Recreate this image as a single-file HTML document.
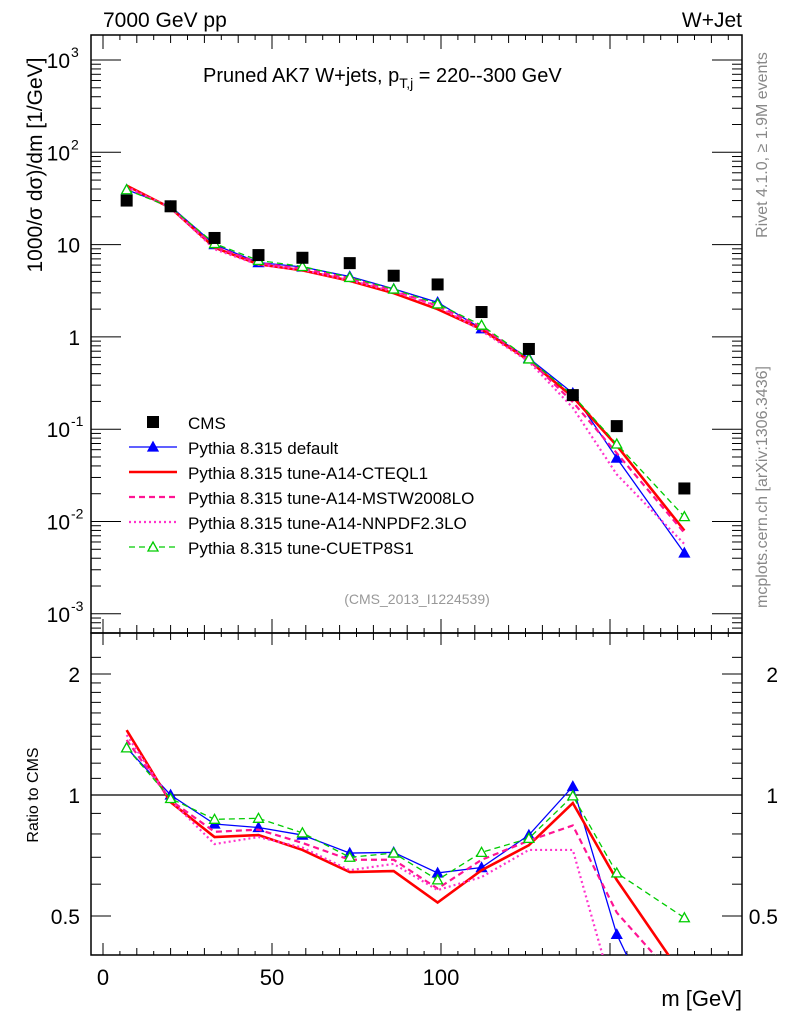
<!DOCTYPE html>
<html><head><meta charset="utf-8"><style>
html,body{margin:0;background:#fff;width:786px;height:1024px;overflow:hidden;position:relative;}
svg{display:block;font-family:"Liberation Sans",sans-serif;}
</style></head><body>
<svg id="chart" width="786" height="1024" viewBox="0 0 786 1024" xmlns="http://www.w3.org/2000/svg" style="position:absolute;left:0;top:0">
<g id="axes"></g><g id="marks"></g><g id="labels"></g>
</svg>
<script>
// ---- data ----
const massBins = [7,20,33,46,59,73,86,99,112,126,139,152,172];
const cmsValues = [30,26,11.8,7.7,7.2,6.3,4.6,3.7,1.86,0.74,0.234,0.108,0.0228];
const ratioDefault = [1.31,1.0,0.847,0.83,0.795,0.717,0.72,0.64,0.66,0.795,1.05,0.45,0.2];
const ratioCTEQ = [1.45,0.96,0.786,0.795,0.73,0.643,0.647,0.54,0.65,0.75,0.955,0.615,0.35];
const ratioMSTW = [1.37,0.97,0.81,0.82,0.76,0.69,0.69,0.585,0.69,0.77,0.84,0.51,0.33];
const ratioNNPDF = [1.41,0.97,0.755,0.786,0.74,0.65,0.674,0.58,0.625,0.73,0.73,0.3,0.25];
const ratioCUETP = [1.31,0.98,0.87,0.875,0.805,0.70,0.717,0.615,0.72,0.78,0.995,0.64,0.495];
const xTicks = [0,50,100];
const mainTickExps = [3,2,1,0,-1,-2,-3];
const ratioTickVals = [2,1,0.5];

// ---- geometry ----
const L=91,R=742,T=35,MB=633,RB=955;
const xs = m => 103 + m*3.38;
const ys = v => 60 + (3 - Math.log10(v))*92.3;
const yr = r => 795 - 402*Math.log10(r);
const NS="http://www.w3.org/2000/svg";
function el(tag, attrs, parent, text){
  const e=document.createElementNS(NS,tag);
  for(const k in attrs) e.setAttribute(k,attrs[k]);
  if(text!==undefined) e.textContent=text;
  parent.appendChild(e); return e;
}
const axes=document.getElementById('axes'), marks=document.getElementById('marks'), labels=document.getElementById('labels');

const defs=el('defs',{},axes);
const c1=el('clipPath',{id:'cm'},defs); el('rect',{x:L,y:T,width:R-L,height:MB-T},c1);
const c2=el('clipPath',{id:'cr'},defs); el('rect',{x:L,y:MB,width:R-L,height:RB-MB},c2);

const f1=el('rect',{x:L,y:T,width:R-L,height:MB-T,fill:'none',stroke:'#000','stroke-width':1.5},axes);


const f2=el('rect',{x:L,y:MB,width:R-L,height:RB-MB,fill:'none',stroke:'#000','stroke-width':1.5},axes);



for(let m=0;m<=185;m+=5){
  const x=xs(m), maj=(m%50===0), len=maj?14:(m%10===0?8:5);
  const lenR=maj?12:(m%10===0?7:4);
  [[T,1],[MB,-1],[MB,1],[RB,-1]].forEach(([y0,d])=>{
    const l=(y0===T||y0===MB&&d===-1)?len:lenR;
    el('line',{x1:x,x2:x,y1:y0,y2:y0+d*l,stroke:'#000','stroke-width':1},axes);
  });
}
xTicks.forEach(v=>{
  const t=el('text',{x:xs(v),y:985,'font-size':22,'text-anchor':'middle'},labels,String(v));
  
  
});

for(let e=-4;e<=3;e++){
  for(let k=1;k<10;k++){
    const v=k*Math.pow(10,e), y=ys(v);
    if(y<T||y>MB) continue;
    const len=k===1?30:10;
    el('line',{x1:L,x2:L+len,y1:y,y2:y,stroke:'#000','stroke-width':1},axes);
    el('line',{x1:R,x2:R-len,y1:y,y2:y,stroke:'#000','stroke-width':1},axes);
  }
}
mainTickExps.forEach(e=>{
  const y=ys(Math.pow(10,e));
  let t;
  if(e===1){ t=el('text',{x:80,y:y+8,'font-size':21,'text-anchor':'end'},labels,'10'); }
  else if(e===0){ t=el('text',{x:80,y:y+8,'font-size':21,'text-anchor':'end'},labels,'1'); }
  else {
    t=el('text',{x:70,y:y+8,'font-size':21,'text-anchor':'end'},labels,'10');
    el('text',{x:71,y:y-3,'font-size':14,'text-anchor':'start'},labels,String(e));
  }
  
  
});

[0.4,0.5,0.6,0.7,0.8,0.9,1,1.1,1.2,1.3,1.4,1.5,1.6,1.7,1.8,1.9,2,2.2].forEach(v=>{
  const y=yr(v); if(y<MB||y>RB) return;
  const len=(v===0.5||v===1||v===2)?20:10;
  el('line',{x1:L,x2:L+len,y1:y,y2:y,stroke:'#000','stroke-width':1},axes);
  el('line',{x1:R,x2:R-len,y1:y,y2:y,stroke:'#000','stroke-width':1},axes);
});
ratioTickVals.forEach(v=>{
  const t=el('text',{x:80,y:yr(v)+8,'font-size':21,'text-anchor':'end'},labels,String(v));
  
  
  const t2=el('text',{x:778,y:yr(v)+8,'font-size':21,'text-anchor':'end'},labels,String(v));
  
  
});
const one=el('line',{x1:L,x2:R,y1:yr(1),y2:yr(1),stroke:'#000','stroke-width':1.3},axes);



const series=[
 {name:'default',r:ratioDefault,color:'#0000ff',w:1.3,dash:'',marker:'tri-fill'},
 {name:'cteql1',r:ratioCTEQ,color:'#ff0000',w:2.6,dash:'',marker:''},
 {name:'mstw2008lo',r:ratioMSTW,color:'#ff1493',w:2.2,dash:'6,4',marker:''},
 {name:'nnpdf23lo',r:ratioNNPDF,color:'#ff33cc',w:2.2,dash:'2,3',marker:''},
 {name:'cuetp8s1',r:ratioCUETP,color:'#00cc00',w:1.3,dash:'6,4',marker:'tri-open'}
];
function tri(g,x,y,s,kind){
  const p=`${x},${y-5} ${x-5},${y+4} ${x+5},${y+4}`;
  const t=el('polygon',{points:p,fill:kind==='tri-fill'?s.color:'#fff',stroke:s.color,'stroke-width':1.3},g);
  
  
}
series.forEach(s=>{
  const gm=el('g',{'clip-path':'url(#cm)'},marks);
  
  
  const pm=massBins.map((m,i)=>xs(m)+','+ys(s.r[i]*cmsValues[i])).join(' ');
  el('polyline',{points:pm,fill:'none',stroke:s.color,'stroke-width':s.w,'stroke-dasharray':s.dash},gm);
  const gr=el('g',{'clip-path':'url(#cr)'},marks);
  
  
  const pr=massBins.map((m,i)=>xs(m)+','+yr(s.r[i])).join(' ');
  el('polyline',{points:pr,fill:'none',stroke:s.color,'stroke-width':s.w,'stroke-dasharray':s.dash},gr);
  massBins.forEach((m,i)=>{
    if(s.marker){ tri(gm,xs(m),ys(s.r[i]*cmsValues[i]),s,s.marker); tri(gr,xs(m),yr(s.r[i]),s,s.marker); }
  });
});
massBins.forEach((m,i)=>{
  const sq=el('rect',{x:xs(m)-6,y:ys(cmsValues[i])-6,width:12,height:12,fill:'#000'},marks);
  
  
});

const leg=el('g',{},labels);


const ly0=422, ldy=25;
const cmsL=el('rect',{x:147,y:ly0-6,width:12,height:12,fill:'#000'},leg);


el('text',{x:188,y:ly0+7,'font-size':17},leg,'CMS');
const legNames=['Pythia 8.315 default','Pythia 8.315 tune-A14-CTEQL1','Pythia 8.315 tune-A14-MSTW2008LO','Pythia 8.315 tune-A14-NNPDF2.3LO','Pythia 8.315 tune-CUETP8S1'];
series.forEach((s,i)=>{
  const y=ly0+ldy*(i+1);
  const g=el('g',{},leg);
  
  
  el('line',{x1:129,x2:177,y1:y,y2:y,stroke:s.color,'stroke-width':s.w,'stroke-dasharray':s.dash},g);
  if(s.marker) tri(g,153,y,s,s.marker);
  el('text',{x:188,y:y+7,'font-size':17},g,legNames[i]);
});
</script>
<svg style="position:absolute;left:0;top:0" width="786" height="1024">
<text x="103" y="27" font-size="21" font-family="Liberation Sans, sans-serif">7000 GeV pp</text>
<text x="742" y="27" font-size="21" text-anchor="end" font-family="Liberation Sans, sans-serif">W+Jet</text>
<text x="203" y="82" font-size="20" font-family="Liberation Sans, sans-serif">Pruned AK7 W+jets, p<tspan font-size="14" dy="6">T,j</tspan><tspan dy="-6"> = 220--300 GeV</tspan></text>
<text transform="translate(42,165) rotate(-90)" font-size="21" text-anchor="middle" font-family="Liberation Sans, sans-serif">1000/σ    dσ)/dm [1/GeV]</text>
<text transform="translate(38,795) rotate(-90)" font-size="16" text-anchor="middle" font-family="Liberation Sans, sans-serif">Ratio to CMS</text>
<text x="742" y="1006" font-size="22" text-anchor="end" font-family="Liberation Sans, sans-serif">m [GeV]</text>
<text transform="translate(767,145) rotate(-90)" font-size="16" fill="#888" text-anchor="middle" font-family="Liberation Sans, sans-serif">Rivet 4.1.0, ≥ 1.9M events</text>
<text transform="translate(767,487) rotate(-90)" font-size="16" fill="#888" text-anchor="middle" font-family="Liberation Sans, sans-serif">mcplots.cern.ch [arXiv:1306.3436]</text>
<text x="417" y="604" font-size="14" fill="#999" text-anchor="middle" font-family="Liberation Sans, sans-serif">(CMS_2013_I1224539)</text>
</svg>
</body></html>
